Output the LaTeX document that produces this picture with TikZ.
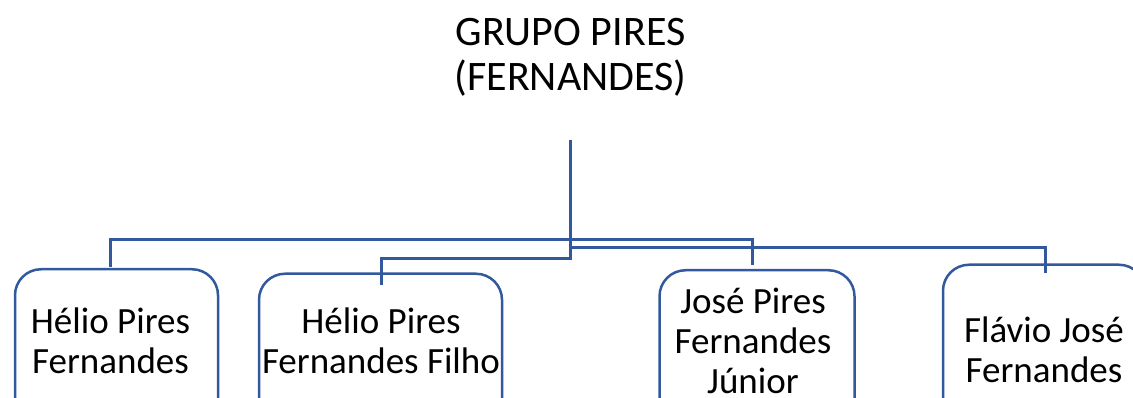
\documentclass[tikz,border=0pt]{standalone}
\usepackage{fontspec}
\setmainfont{Carlito}
\definecolor{lnblue}{RGB}{50,88,158}
\begin{document}
\begin{tikzpicture}[x=1pt,y=-1pt,
  conn/.style={draw=lnblue,line width=3pt},
  card/.style={draw=lnblue,line width=2.5pt,rounded corners=26pt,minimum height=200pt,anchor=north,inner sep=0pt},
  ttl/.style={font=\fontsize{42}{45}\selectfont,anchor=base,inner sep=0pt},
  lbl/.style={font=\fontsize{37}{40}\selectfont,anchor=base,inner sep=0pt}]
\useasboundingbox (0,0) rectangle (1133,398);
\clip (0,0) rectangle (1133,398);
% title
\node[ttl] (tt1) at (570.5,46) {GRUPO PIRES};
\node[ttl] (tt2) at (570.5,91) {(FERNANDES)};
% boxes
\node[card,minimum width=203pt] (b1) at (116.5,268) {};
\node[card,minimum width=243pt] (b2) at (380.5,272.5) {};
\node[card,minimum width=195pt] (b3) at (757,269) {};
\node[card,minimum width=202pt] (b4) at (1044,263.5) {};
% labels
\node[lbl] (l1a) at (110.5,334) {Hélio Pires};
\node[lbl] (l1b) at (110.5,373) {Fernandes};
\node[lbl] (l2a) at (381,333) {Hélio Pires};
\node[lbl] (l2b) at (381,373) {Fernandes Filho};
\node[lbl] (l3a) at (753,313) {José Pires};
\node[lbl] (l3b) at (753,353) {Fernandes};
\node[lbl] (l3c) at (753,393) {Júnior};
\node[lbl] (l4a) at (1044,342) {Flávio José};
\node[lbl] (l4b) at (1044,382) {Fernandes};
% connectors
\coordinate (top) at (570.5,140);
\coordinate (j1) at (570.5,240);
\coordinate (j2) at (570.5,248);
\coordinate (j3) at (570.5,259);
\coordinate (e1) at (110.5,267);
\coordinate (e2) at (381,285);
\coordinate (e3) at (752,265);
\coordinate (e4) at (1045,273);
\draw[conn] (top) -- (j3) -| (e2);
\draw[conn] (j1) -| (e1);
\draw[conn] (j1) -| (e3);
\draw[conn] (j2) -| (e4);
\end{tikzpicture}
\end{document}
